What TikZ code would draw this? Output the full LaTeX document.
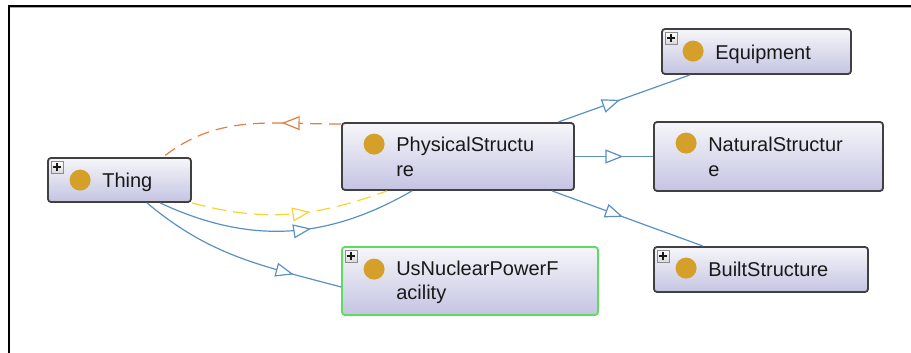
\documentclass[tikz,border=0pt]{standalone}
\usepackage{fontspec}
\setmainfont{Liberation Sans}
\usetikzlibrary{arrows.meta,decorations.markings,calc}
\definecolor{nodeborder}{RGB}{64,64,66}
\definecolor{nodetop}{RGB}{246,246,250}
\definecolor{nodebot}{RGB}{196,196,226}
\definecolor{golddot}{RGB}{212,160,42}
\definecolor{edgeblue}{RGB}{90,145,195}
\definecolor{edgeorange}{RGB}{222,128,70}
\definecolor{edgeyellow}{RGB}{250,212,45}
\definecolor{selgreen}{RGB}{95,220,95}
\begin{document}
\begin{tikzpicture}[x=1pt,y=1pt,
  cls/.style={draw=nodeborder, line width=1.8pt, rounded corners=3pt,
    top color=nodetop, bottom color=nodebot, inner sep=0pt},
  selcls/.style={cls, draw=selgreen},
  dot/.style={circle, fill=golddot, minimum size=21pt, inner sep=0pt},
  plusbox/.style={draw=gray!90, line width=0.9pt, top color=white, bottom color=gray!30,
    minimum size=12pt, inner sep=0pt,
    path picture={\draw[line width=1.6pt, black!90]
      ($(path picture bounding box.center)+(-4,0)$) -- ($(path picture bounding box.center)+(4,0)$)
      ($(path picture bounding box.center)+(0,-4)$) -- ($(path picture bounding box.center)+(0,4)$);}},
  lbl/.style={anchor=base west, inner sep=0pt, text=black!90, font=\fontsize{20pt}{25pt}\selectfont},
  >={Triangle[length=18pt,width=14pt,fill=white,line width=1.2pt]},
  edge/.style={line width=1.2pt},
  mid/.style={postaction={decorate,decoration={markings,mark=at position #1 with {\arrow[solid]{>}}}}},
  isa/.style={edge, draw=edgeblue},
  dashA/.style={edge, draw=edgeorange, dash pattern=on 12pt off 7pt},
  dashB/.style={edge, draw=edgeyellow, dash pattern=on 14pt off 7pt}
]
\useasboundingbox (0,0) rectangle (911,353);
% frame
\draw[line width=2pt] (9,0) -- (9,347) -- (911,347);
\draw[selgreen, line width=1pt] (10,345.2) -- (911,345.2);

% class nodes
\node[cls, minimum width=143pt, minimum height=44pt] (thing) at (119.5,173) {};
\node[cls, minimum width=232pt, minimum height=67pt] (phys) at (458,196.5) {};
\node[cls, minimum width=189pt, minimum height=45pt] (equip) at (756.5,301.5) {};
\node[cls, minimum width=229pt, minimum height=69pt] (natural) at (768.5,196.5) {};
\node[cls, minimum width=214pt, minimum height=45pt] (built) at (761,83.5) {};
\node[selcls, minimum width=256pt, minimum height=68pt] (nuclear) at (470,72) {};

% icons and labels
\node[plusbox] (thingplus) at ($(thing.north west)+(10,-10)$) {};
\node[dot] (thingdot) at ($(thing.north west)+(33,-23)$) {};
\node[lbl] (thingt) at ($(thing.north west)+(55,-30)$) {Thing};

\node[dot] (physdot) at ($(phys.north west)+(33,-22)$) {};
\node[lbl] (physt1) at ($(phys.north west)+(55,-29)$) {PhysicalStructu};
\node[lbl] (physt2) at ($(phys.north west)+(55,-54)$) {re};

\node[plusbox] (equipplus) at ($(equip.north west)+(10,-10)$) {};
\node[dot] (equipdot) at ($(equip.north west)+(32,-23)$) {};
\node[lbl] (equipt) at ($(equip.north west)+(54,-31)$) {Equipment};

\node[dot] (naturaldot) at ($(natural.north west)+(33,-22)$) {};
\node[lbl] (naturalt1) at ($(natural.north west)+(55,-30)$) {NaturalStructur};
\node[lbl] (naturalt2) at ($(natural.north west)+(55,-55)$) {e};

\node[plusbox] (builtplus) at ($(built.north west)+(10,-10)$) {};
\node[dot] (builtdot) at ($(built.north west)+(33,-22)$) {};
\node[lbl] (builtt) at ($(built.north west)+(55,-30)$) {BuiltStructure};

\node[plusbox] (nuclearplus) at ($(nuclear.north west)+(10,-10)$) {};
\node[dot] (nucleardot) at ($(nuclear.north west)+(33,-23)$) {};
\node[lbl] (nucleart1) at ($(nuclear.north west)+(55,-29)$) {UsNuclearPowerF};
\node[lbl] (nucleart2) at ($(nuclear.north west)+(55,-53)$) {acility};

% connectors
\draw[dashA, mid=0.32] ($(phys.north west)+(0,-2)$) to[out=180,in=38] ($(thing.north)+(43.5,0)$);
\draw[dashB, mid=0.6] (thing.south east) to[out=-15,in=-160] ($(phys.south)+(-71,0)$);
\draw[isa, mid=0.59] ($(thing.south)+(40.5,0)$) to[out=-25,in=-150] ($(phys.south)+(-46,0)$);
\draw[isa, mid=0.77] ($(thing.south)+(27.5,0)$) to[out=-40,in=165] ($(nuclear.west)+(0,-6)$);
\draw[isa, mid=0.47] ($(phys.north)+(100,0)$) -- ($(equip.south)+(-66.5,0)$);
\draw[isa, mid=0.62] (phys.east) -- (natural.west);
\draw[isa, mid=0.47] ($(phys.south)+(94,0)$) -- ($(built.north)+(-58,0)$);
\end{tikzpicture}
\end{document}
